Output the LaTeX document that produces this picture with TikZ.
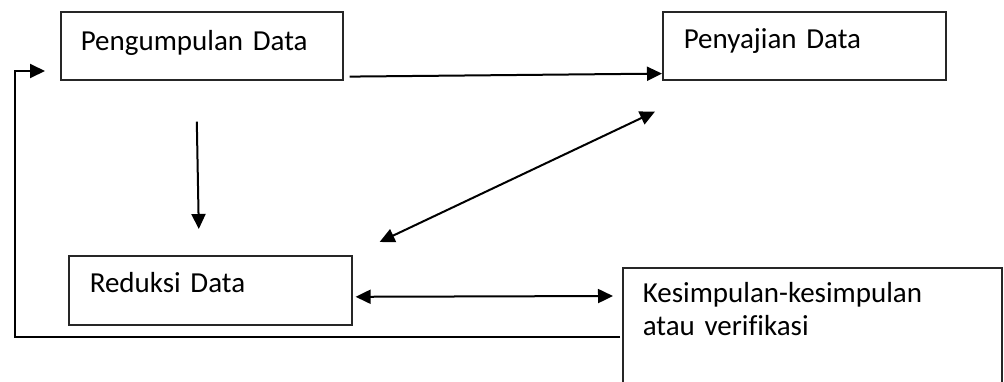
\documentclass[tikz,border=0pt]{standalone}
\usepackage{fontspec}
\setmainfont{Carlito}[Ligatures=NoCommon]
\usetikzlibrary{arrows.meta,calc}
\begin{document}
\begin{tikzpicture}[x=1pt,y=-1pt,
  box/.style={draw=black!85,line width=1.6pt,anchor=north west,inner ysep=0pt,
    font=\fontsize{29}{33}\selectfont},
  conn/.style={line width=2pt,-{Triangle[length=15pt,width=14pt]}},
  both/.style={line width=2pt,{Triangle[length=15pt,width=14pt]}-{Triangle[length=15pt,width=14pt]}}]
\useasboundingbox (0,0) rectangle (1004,381);
\clip (0,0) rectangle (1004,381);
\node[box,inner xsep=20pt,minimum width=282pt,text height=39pt,text depth=29pt,text width=242pt,align=left] (b1) at (60,11) {Pengumpulan Data};
\node[box,inner xsep=21pt,minimum width=283pt,text height=37pt,text depth=31pt,text width=241pt,align=left] (b2) at (662,11) {Penyajian Data};
\node[box,inner xsep=21pt,minimum width=283pt,text height=37pt,text depth=32pt,text width=241pt,align=left] (b3) at (68,255) {Reduksi Data};
\node[box,inner xsep=20pt,minimum width=379pt,text height=35pt,text depth=110pt,text width=339pt] (b4) at (622,267)
  {\vtop{\baselineskip=33pt\hbox{Kesimpulan-kesimpulan}\hbox{atau verifikasi}}};
\draw[conn] ($(b1.south east)+(6,-4)$) -- ($(b2.south west)+(0,-7)$);
\draw[conn] ($(b1.south)+(-5,41)$) -- ($(b3.north)+(-11.5,-26)$);
\draw[both] ($(b3.north east)+(27,-13)$) -- ($(b2.south west)+(-7,31)$);
\draw[both] ($(b3.east)+(3,6.5)$) -- ($(b4.north west)+(-9,29)$);
\coordinate (fs) at ($(b4.north west)+(-2,70)$);
\coordinate (fc) at (15,337);
\coordinate (fe) at ($(b1.north west)+(-15,60)$);
\draw[conn] (fs) -- (fc) |- (fe);
\end{tikzpicture}
\end{document}
